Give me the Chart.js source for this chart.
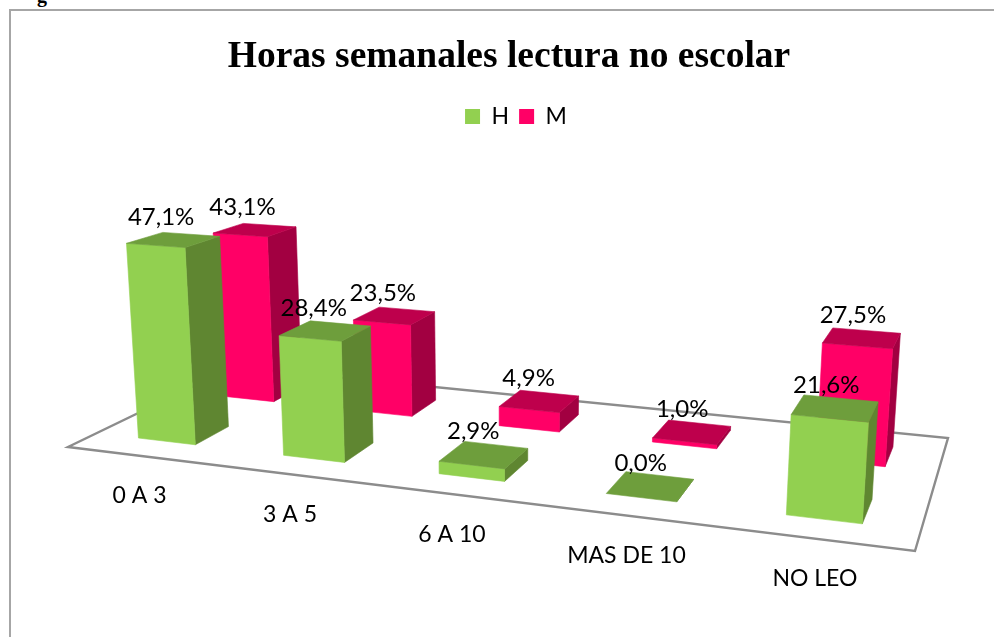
<!DOCTYPE html>
<html><head><meta charset="utf-8">
<style>
html,body{margin:0;padding:0;background:#fff;overflow:hidden;width:994px;height:637px}
#wrap{position:relative;width:994px;height:637px;overflow:hidden}
#frame{position:absolute;left:9px;top:9px;width:1100px;height:800px;border:2px solid #a6a6a6;box-sizing:border-box}
#cap{position:absolute;left:37px;top:-15px;font:bold 20px "Liberation Serif",serif;color:#000;line-height:20px}
canvas{position:absolute;left:0;top:0}
</style></head><body>
<div id="wrap">
<div id="frame"></div>
<div id="cap">g</div>
<canvas id="c" width="994" height="637"></canvas>
</div>
<script src="https://cdn.jsdelivr.net/npm/chart.js@4/dist/chart.umd.min.js"></script>
<script>
const categories = ['0 A 3','3 A 5','6 A 10','MAS DE 10','NO LEO'];
const seriesH = [47.1, 28.4, 2.9, 0.0, 21.6];
const seriesM = [43.1, 23.5, 4.9, 1.0, 27.5];

const FLOOR = [[68,447],[915,551],[948,438],[233.5,367]];
const VP = [505,6400];
const RISE = -0.000684;
const DEPTH = [[0.15,0.35],[0.65,0.85]];
const SHADES = [
  {front:'#92D050',side:'#5F8631',top:'#6E9E3C'},
  {front:'#FF0066',side:'#A20041',top:'#BE004C'}
];
const VALUE_FONT = '24px Lato, sans-serif';
const CATEGORY_FONT = '23px Lato, sans-serif';

function makeCamera(q){
  const [[x0,y0],[x1,y1],[x2,y2],[x3,y3]] = q;
  const dx1=x1-x2, dx2=x3-x2, sx=x0-x1+x2-x3;
  const dy1=y1-y2, dy2=y3-y2, sy=y0-y1+y2-y3;
  const det=dx1*dy2-dy1*dx2;
  const g=(sx*dy2-sy*dx2)/det, h=(dx1*sy-dy1*sx)/det;
  const a=x1-x0+g*x1, b=x3-x0+h*x3, d=y1-y0+g*y1, e=y3-y0+h*y3;
  return (u,v,z)=>{
    const t=z*RISE, w=g*u+h*v+1+t;
    return [(a*u+b*v+x0+t*VP[0])/w,(d*u+e*v+y0+t*VP[1])/w];
  };
}
const project = makeCamera(FLOOR);

function quad(ctx,pts,color){
  ctx.beginPath();
  pts.forEach((p,i)=> i?ctx.lineTo(p[0],p[1]):ctx.moveTo(p[0],p[1]));
  ctx.closePath();
  ctx.fillStyle=color; ctx.strokeStyle=color; ctx.lineWidth=0.6;
  ctx.fill(); ctx.stroke();
}

const bars3d = {
  id:'bars3d',
  afterLayout(chart){
    chart.legend.left += 7;
    chart.legend.right += 7;
  },
  beforeDatasetsDraw(chart){
    const ctx=chart.ctx, xs=chart.scales.x, ys=chart.scales.y;
    const U=px=>(px-xs.left)/xs.width;
    ctx.save();
    ctx.beginPath();
    [[0,0],[1,0],[1,1],[0,1]].forEach((c,i)=>{
      const p=project(c[0],c[1],0); i?ctx.lineTo(p[0],p[1]):ctx.moveTo(p[0],p[1]);
    });
    ctx.closePath();
    ctx.strokeStyle='#8c8c8c'; ctx.lineWidth=2.4; ctx.lineJoin='miter'; ctx.stroke();
    for(let ds=chart.data.datasets.length-1; ds>=0; ds--){
      const [v0,v1]=DEPTH[ds], c=SHADES[ds];
      chart.getDatasetMeta(ds).data.forEach(el=>{
        const u0=U(el.x-el.width/2), u1=U(el.x+el.width/2);
        const z=ys.getValueForPixel(el.y);
        quad(ctx,[project(u1,v0,0),project(u1,v1,0),project(u1,v1,z),project(u1,v0,z)],c.side);
        if(z>0) quad(ctx,[project(u0,v0,0),project(u1,v0,0),project(u1,v0,z),project(u0,v0,z)],c.front);
        quad(ctx,[project(u0,v0,z),project(u1,v0,z),project(u1,v1,z),project(u0,v1,z)],c.top);
      });
    }
    ctx.font=VALUE_FONT; ctx.fillStyle='#000'; ctx.textAlign='center'; ctx.textBaseline='middle';
    chart.data.datasets.forEach((d,ds)=>{
      const [v0,v1]=DEPTH[ds];
      chart.getDatasetMeta(ds).data.forEach((el,i)=>{
        const z=ys.getValueForPixel(el.y);
        const u=U(el.x);
        const p=project(u,(v0+v1)/2,z);
        ctx.fillText(d.data[i].toFixed(1).replace('.',',')+'%',p[0]-13+4.5*u,p[1]-23);
      });
    });
    ctx.font=CATEGORY_FONT;
    chart.data.labels.forEach((t,i)=>{
      const p=project(U(xs.getPixelForValue(i)),0,0);
      ctx.fillText(t,p[0],p[1]+40);
    });
    ctx.restore();
    return false;
  }
};

new Chart(document.getElementById('c'),{
  type:'bar',
  data:{labels:categories,datasets:[
    {label:'H',data:seriesH,backgroundColor:SHADES[0].front},
    {label:'M',data:seriesM,backgroundColor:SHADES[1].front}
  ]},
  options:{
    responsive:false,animation:false,
    layout:{padding:{left:24,right:0,top:35,bottom:10}},
    datasets:{bar:{grouped:false,barPercentage:0.4,categoryPercentage:1}},
    scales:{x:{display:false},y:{display:false,min:0,max:50}},
    plugins:{
      tooltip:{enabled:false},
      title:{display:true,text:'Horas semanales lectura no escolar',color:'#000',
        font:{family:'"Liberation Serif",serif',size:37.5,weight:'bold',lineHeight:1.2},
        padding:{top:0,bottom:15}},
      legend:{display:true,position:'top',align:'center',
        labels:{boxWidth:15,boxHeight:15,padding:10,color:'#000',font:{family:'Lato,sans-serif',size:23}}}
    }
  },
  plugins:[bars3d]
});
</script>
</body></html>
